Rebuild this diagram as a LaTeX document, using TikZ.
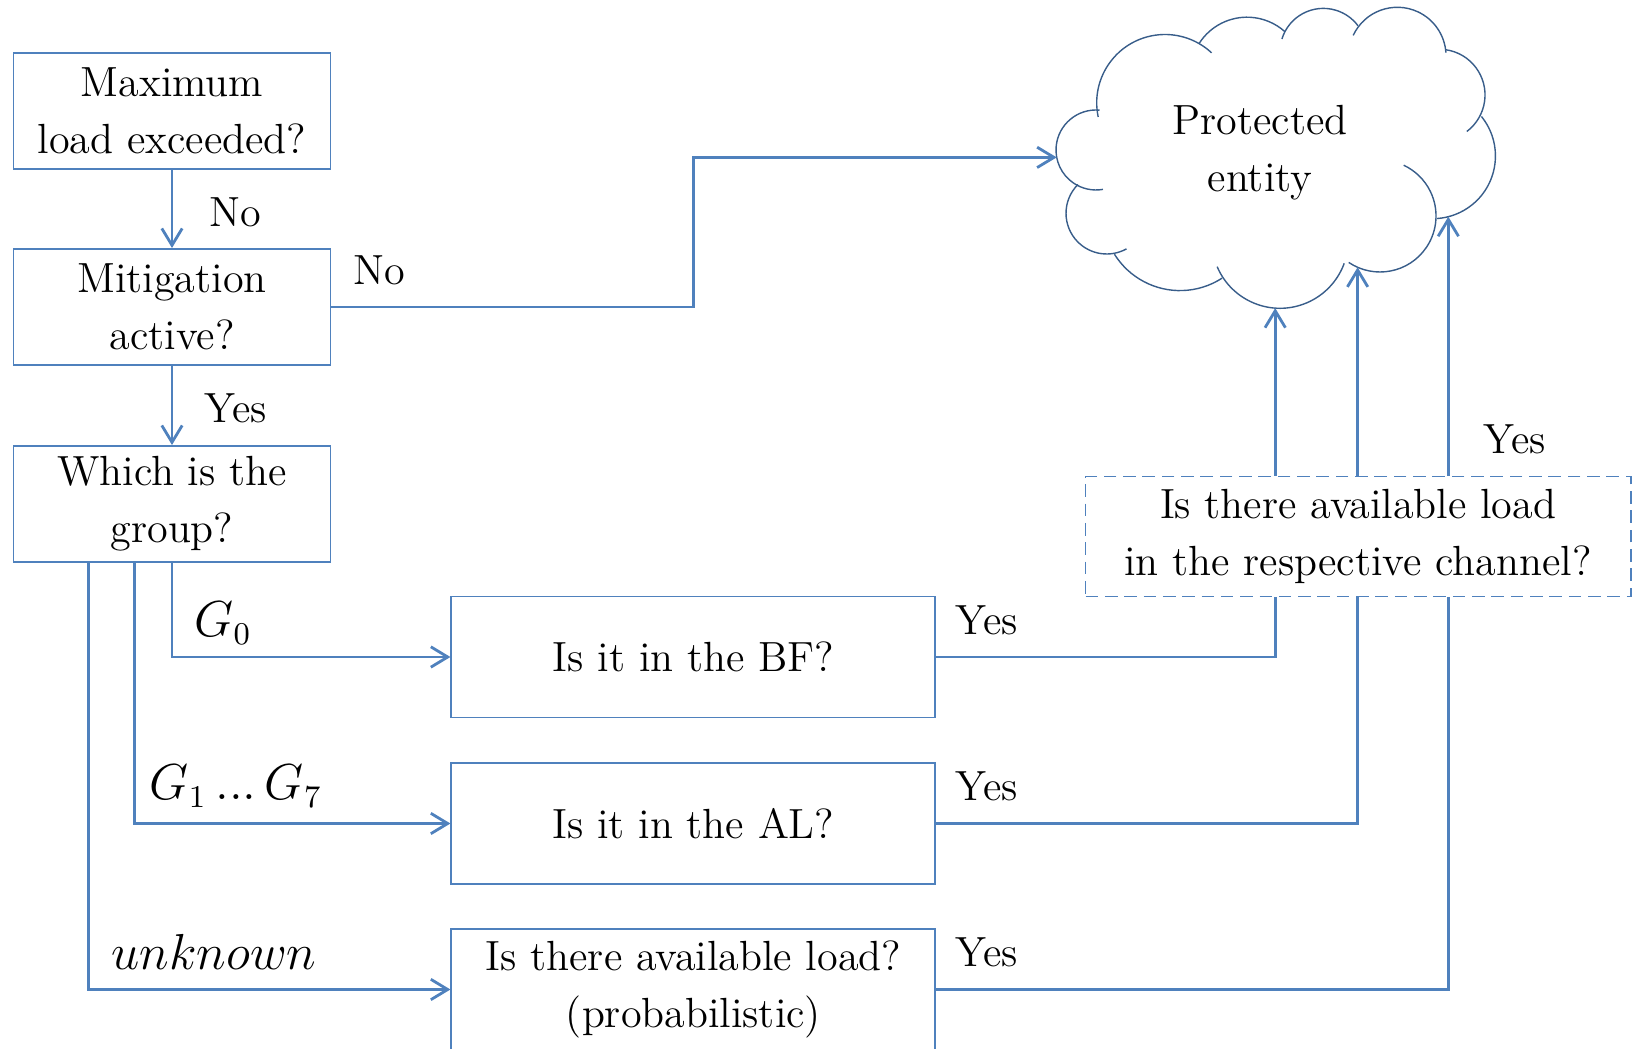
\documentclass[tikz,border=0pt]{standalone}
\usepackage{amsmath}
\usepackage{tikz}
\usetikzlibrary{arrows.meta}
\usetikzlibrary{positioning}
\definecolor{lineblue}{RGB}{79,129,189}
\definecolor{cloudblue}{RGB}{56,93,138}

\begin{document}
\begin{tikzpicture}[font=\fontsize{12}{16.2}\selectfont, box/.style={rectangle, draw=lineblue, line width=0.55pt, align=center, inner sep=0pt, minimum width=3.17cm, minimum height=1.16cm}, wide/.style={box, minimum width=4.84cm, minimum height=1.21cm}, chanbox/.style={box, dash pattern=on 3.6pt off 1.9pt, minimum width=5.45cm, minimum height=1.2cm}, line/.style={line width=0.8pt, draw=lineblue}, arrow/.style={line, ->, >={Straight Barb[length=4.8pt,width=5.8pt]}}, cloudline/.style={draw=cloudblue, line width=0.4pt}, lbl/.style={inner sep=0pt}, mlbl/.style={lbl, font=\fontsize{13.5}{16}\selectfont}]
\useasboundingbox (0,0) rectangle (16.35,10.48);
\node (MAX) [box] at (1.72,9.37) {Maximum\\load exceeded?};
\node (MIT) [box] at (1.72,7.41) {Mitigation\\active?};
\node (GROUP) [box] at (1.72,5.44) {Which is the\\group?};
\node (BF) [wide] at (6.934,3.91) {Is it in the BF?};
\node (AL) [wide] at (6.934,2.245) {Is it in the AL?};
\node (PROB) [wide] at (6.934,0.585) {Is there available load?\\(probabilistic)};
\node (CHAN) [chanbox] at (13.58,5.115) {Is there available load\\in the respective channel?};
\node (ENTITY) [align=center] at (12.60,8.955) {Protected\\entity};
\foreach \cx/\cy/\r/\a/\b in {10.96/8.98/0.40/85/280, 11.067/8.347/0.407/135/299, 11.80/8.347/0.773/212/303, 12.80/8.08/0.683/203/340, 13.80/8.32/0.56/236/425, 14.327/8.92/0.627/39/-86, 14.393/9.53/0.457/82/-53, 13.973/9.92/0.487/155/4, 13.233/9.963/0.433/163/37, 12.47/9.74/0.568/147/48, 11.65/9.452/0.683/192/47}
  \draw [cloudline] ([shift={(\a:\r)}] \cx,\cy) arc [start angle=\a, end angle=\b, radius=\r];
\coordinate (inL) at (10.567,8.906);
\coordinate (in1) at (12.752,7.399);
\coordinate (in2) at (13.576,7.807);
\coordinate (in3) at (14.483,8.313);
\node (NOA) [lbl] at (2.35,8.36) {No};
\node (NOB) [lbl] at (3.79,7.78) {No};
\node (YESA) [lbl] at (2.36,6.40) {Yes};
\node (LGA) [mlbl] at (2.23,4.245) {$G_0$};
\node (LGB) [mlbl] at (2.36,2.62) {$G_1\,{.}{.}{.}\,G_7$};
\node (LUNK) [mlbl] at (2.14,0.96) {$unknown$};
\node (YBF) [lbl] at (9.87,4.28) {Yes};
\node (YAL) [lbl] at (9.87,2.62) {Yes};
\node (YPR) [lbl] at (9.87,0.96) {Yes};
\node (YCH) [lbl] at (15.15,6.09) {Yes};
\draw [arrow] (MAX) -- (MIT);
\draw [arrow] (MIT) -- (GROUP);
\draw [arrow] (MIT.east) -| (BF.center |- inL) -- (inL);
\draw [arrow] (GROUP.south) |- (BF.west);
\draw [arrow] ([xshift=-3.75mm]GROUP.south) |- (AL.west);
\draw [arrow] ([xshift=-8.34mm]GROUP.south) |- (PROB.west);
\draw [line] (BF.east) -| (in1 |- CHAN.south);
\draw [line] (AL.east) -| (in2 |- CHAN.south);
\draw [line] (PROB.east) -| (in3 |- CHAN.south);
\foreach \c in {in1,in2,in3}
  \draw [arrow] (CHAN.north -| \c) -- (\c);
\end{tikzpicture}
\end{document}
